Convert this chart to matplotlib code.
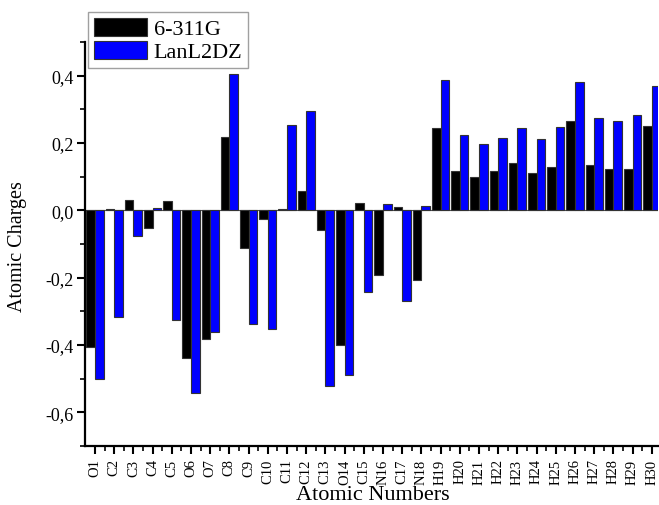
import matplotlib
matplotlib.use("Agg")
import matplotlib.pyplot as plt
import numpy as np
from matplotlib.ticker import FuncFormatter, MultipleLocator, FixedLocator

plt.rcParams['font.family'] = ['Liberation Serif', 'DejaVu Serif']

atoms = ["O1", "C2", "C3", "C4", "C5", "O6", "O7", "C8", "C9", "C10",
         "C11", "C12", "C13", "O14", "C15", "N16", "C17", "N18", "H19", "H20",
         "H21", "H22", "H23", "H24", "H25", "H26", "H27", "H28", "H29", "H30"]

charges_6311g = [-0.405, 0.005, 0.030, -0.053, 0.027, -0.438, -0.383, 0.217, -0.112, -0.025,
                 0.003, 0.057, -0.058, -0.400, 0.023, -0.192, 0.010, -0.207, 0.246, 0.118,
                 0.100, 0.118, 0.141, 0.112, 0.130, 0.264, 0.135, 0.124, 0.124, 0.251]

charges_lanl2dz = [-0.502, -0.318, -0.076, 0.007, -0.325, -0.542, -0.360, 0.404, -0.338, -0.351,
                   0.252, 0.294, -0.522, -0.490, -0.244, 0.020, -0.270, 0.013, 0.388, 0.225,
                   0.196, 0.216, 0.244, 0.213, 0.248, 0.381, 0.273, 0.266, 0.283, 0.368]

series_names = ["6-311G", "LanL2DZ"]

W, H = 659, 506
fig = plt.figure(figsize=(W / 100, H / 100), dpi=100)
ax = fig.add_axes([85 / W, 59 / H, (657.5 - 85) / W, (447 - 43) / H])

x = np.arange(len(atoms))
w = 0.45
ax.bar(x - w / 2, charges_6311g, width=w, color="black", edgecolor="#333333",
       linewidth=0.8, label=series_names[0], zorder=2)
ax.bar(x + w / 2, charges_lanl2dz, width=w, color="#0000ff", edgecolor="#333333",
       linewidth=0.8, label=series_names[1], zorder=2)

ax.axhline(0, color="#555555", linewidth=0.8, zorder=1)

ax.set_xlim(-0.52, 29.3)
ax.set_ylim(-0.7, 0.5)

ax.set_xticks(x)
ax.set_xticklabels(atoms, rotation=90)
ax.xaxis.set_minor_locator(FixedLocator(x[:-1] + 0.5))
ax.yaxis.set_major_locator(FixedLocator([-0.6, -0.4, -0.2, 0.0, 0.2, 0.4]))
ax.yaxis.set_minor_locator(MultipleLocator(0.1))
ax.yaxis.set_major_formatter(FuncFormatter(lambda v, p: f"{v:.1f}".replace(".", ",").replace("-0,0", "0,0")))

for side in ("top", "right"):
    ax.spines[side].set_visible(False)
for side in ("left", "bottom"):
    ax.spines[side].set_linewidth(1.6)

ax.tick_params(axis="both", which="major", direction="out", length=6, width=1.5,
               labelsize=13, pad=2)
ax.tick_params(axis="both", which="minor", direction="out", length=3.5, width=1.2)
ax.tick_params(axis="x", which="major", labelsize=10.5, pad=3)

fig.text(18 / W, 1 - 247 / H, "Atomic Charges", fontsize=14.5, rotation=90,
         ha="center", va="center")
fig.text(373 / W, 6 / H, "Atomic Numbers", fontsize=16,
         ha="center", va="baseline")

leg = fig.legend(loc="upper left", bbox_to_anchor=(88 / W, 1 - 13 / H),
                 bbox_transform=fig.transFigure, borderaxespad=0, fontsize=16,
                 frameon=True, fancybox=False, edgecolor="#888888",
                 handlelength=2.4, handleheight=0.9, handletextpad=0.3,
                 labelspacing=0.05, borderpad=0.25)
leg.get_frame().set_linewidth(1.0)
for h in leg.legend_handles:
    h.set_edgecolor("#333333")

fig.savefig("out.png", dpi=100)
